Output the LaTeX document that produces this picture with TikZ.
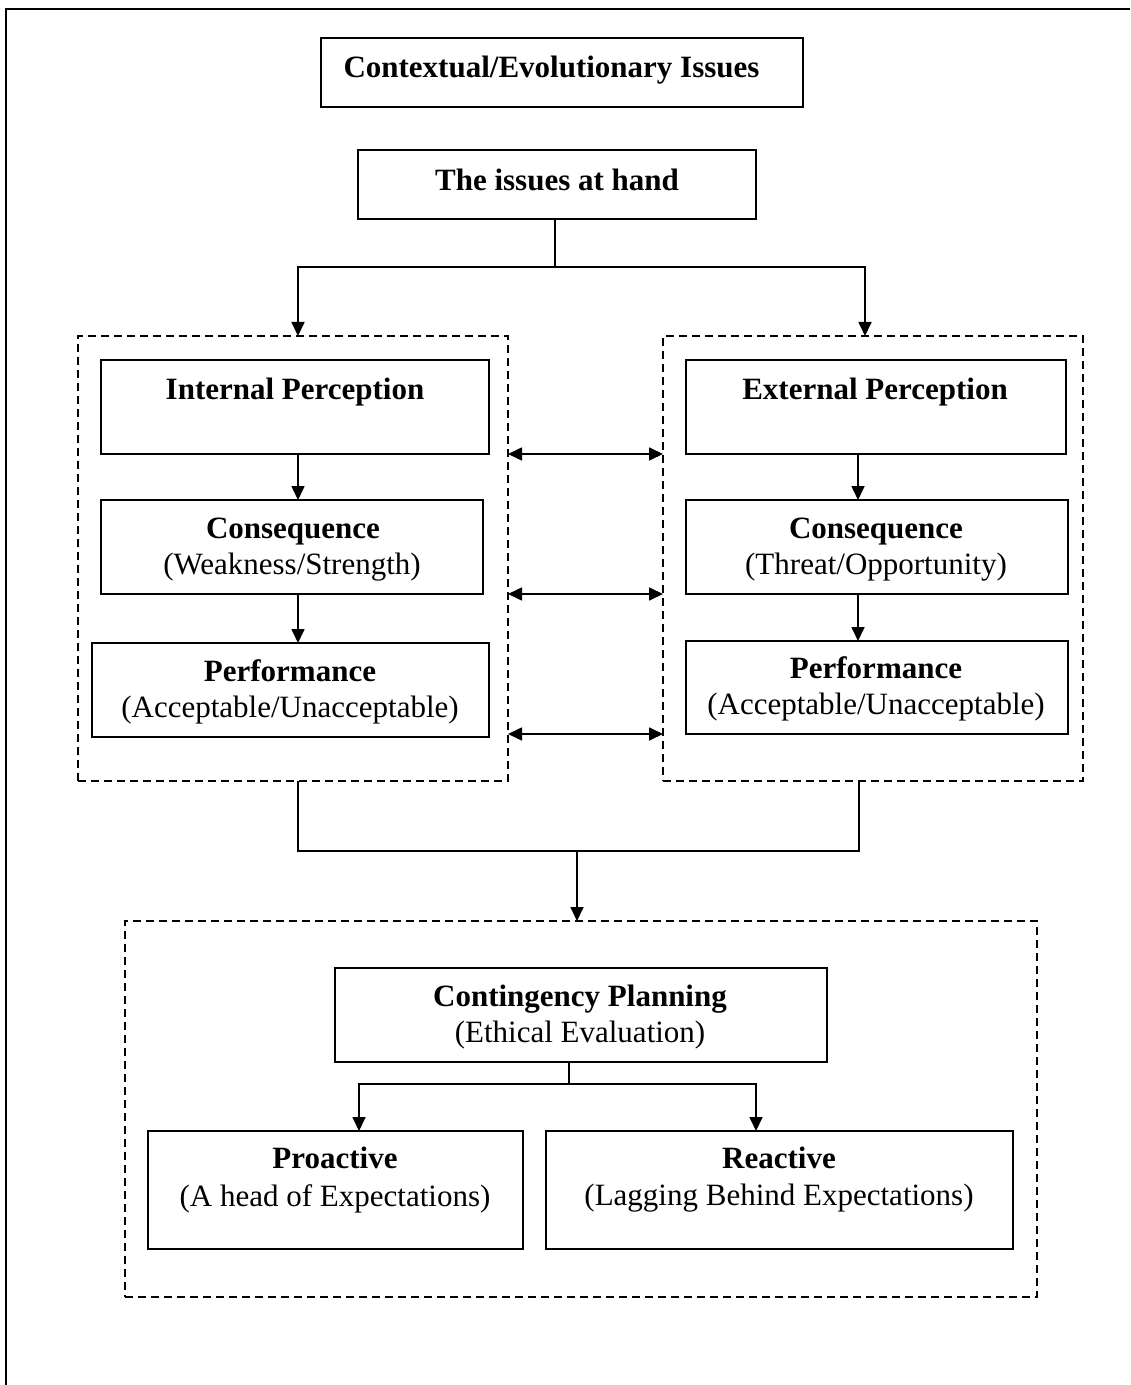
\documentclass[tikz,border=0pt]{standalone}
\usepackage{fontspec}
\setmainfont{Liberation Serif}
\usetikzlibrary{arrows.meta}
\newcommand\boxat[6]{\node[#6, minimum width={(#4-#2)*0.5pt}, minimum height={(#5-#3)*0.5pt}] (#1) at ({(#2+#4)/2},{(#3+#5)/2}) {};}
\begin{document}
\begin{tikzpicture}[x=0.5pt,y=-0.5pt,
  box/.style={draw, line width=0.85pt, inner sep=0pt, outer sep=0pt},
  grp/.style={draw, line width=0.65pt, dash pattern=on 4pt off 2.5pt, inner sep=0pt, outer sep=0pt},
  ttl/.style={font=\fontsize{15.5}{18}\selectfont\bfseries, anchor=base, inner sep=0pt},
  sub/.style={font=\fontsize{15.5}{18}\selectfont, anchor=base, inner sep=0pt},
  conn/.style={line width=0.85pt},
  arr/.style={conn, -{Triangle[length=7pt,width=6.5pt]}},
  biarr/.style={conn, {Triangle[length=7pt,width=6.5pt]}-{Triangle[length=7pt,width=6.5pt]}},
]
\useasboundingbox (0,0) rectangle (1130,1385);
% outer frame (top and left edges)
\draw[line width=1.1pt] (1130,9) -- (6,9) -- (6,1385);

% top boxes
\boxat{ctx}{321}{38}{803}{107}{box}
\node[ttl] (ctxT) at (551.5,78) {Contextual/Evolutionary Issues};
\boxat{issues}{358}{150}{756}{219}{box}
\node[ttl] (issuesT) at (557,191) {The issues at hand};

% groups
\boxat{lgrp}{78}{336}{508}{781}{grp}
\boxat{rgrp}{663}{336}{1083}{781}{grp}
\boxat{bgrp}{125}{921}{1037}{1297}{grp}

% left column
\boxat{ip}{101}{360}{489}{454}{box}
\node[ttl] (ipT) at (295,399) {Internal Perception};
\boxat{lc}{101}{500}{483}{594}{box}
\node[ttl] (lcT) at (293,538) {Consequence};
\node[sub] (lcS) at (292,574) {(Weakness/Strength)};
\boxat{lp}{92}{643}{489}{737}{box}
\node[ttl] (lpT) at (290,681) {Performance};
\node[sub] (lpS) at (290,717) {(Acceptable/Unacceptable)};

% right column
\boxat{ep}{686}{360}{1066}{454}{box}
\node[ttl] (epT) at (875,399) {External Perception};
\boxat{rc}{686}{500}{1068}{594}{box}
\node[ttl] (rcT) at (876,538) {Consequence};
\node[sub] (rcS) at (876,574) {(Threat/Opportunity)};
\boxat{rp}{686}{641}{1068}{734}{box}
\node[ttl] (rpT) at (876,678) {Performance};
\node[sub] (rpS) at (876,714) {(Acceptable/Unacceptable)};

% bottom group
\boxat{cp}{335}{968}{827}{1062}{box}
\node[ttl] (cpT) at (580,1006) {Contingency Planning};
\node[sub] (cpS) at (580,1042) {(Ethical Evaluation)};
\boxat{pro}{148}{1131}{523}{1249}{box}
\node[ttl] (proT) at (335,1168) {Proactive};
\node[sub] (proS) at (335,1206) {(A head of Expectations)};
\boxat{rea}{546}{1131}{1013}{1249}{box}
\node[ttl] (reaT) at (779,1168) {Reactive};
\node[sub] (reaS) at (779,1205) {(Lagging Behind Expectations)};

% connectors: top split
\coordinate (j1) at (555,267);
\draw[conn] ([xshift=-1pt]issues.south) -- (j1);
\draw[arr] (j1) -| ([xshift=2.5pt]lgrp.north);
\draw[arr] (j1) -| ([xshift=-4pt]rgrp.north);

% inner column arrows
\draw[arr] ([xshift=1.5pt]ip.south) -- ([xshift=1.5pt]ip.south |- lc.north);
\draw[arr] ([xshift=3pt]lc.south) -- ([xshift=3pt]lc.south |- lp.north);
\draw[arr] ([xshift=-9pt]ep.south) -- ([xshift=-9pt]ep.south |- rc.north);
\draw[arr] ([xshift=-9.5pt]rc.south) -- ([xshift=-9.5pt]rc.south |- rp.north);

% bidirectional arrows between groups
\draw[biarr] (lgrp.east |- ip.south) -- (rgrp.west |- ip.south);
\draw[biarr] (lgrp.east |- lc.south) -- (rgrp.west |- lc.south);
\draw[biarr] (lgrp.east |- rp.south) -- (rgrp.west |- rp.south);

% merge to bottom group
\coordinate (j2) at (577,851);
\draw[conn] ([xshift=2.5pt]lgrp.south) |- (j2);
\draw[conn] ([xshift=-7pt]rgrp.south) |- (j2);
\draw[arr] (j2) -- (j2 |- bgrp.north);

% contingency split
\coordinate (j3) at (569,1084);
\draw[conn] (cp.south -| j3) -- (j3);
\draw[arr] (j3) -| ([xshift=11.75pt]pro.north);
\draw[arr] (j3) -| ([xshift=-11.75pt]rea.north);
\end{tikzpicture}
\end{document}
